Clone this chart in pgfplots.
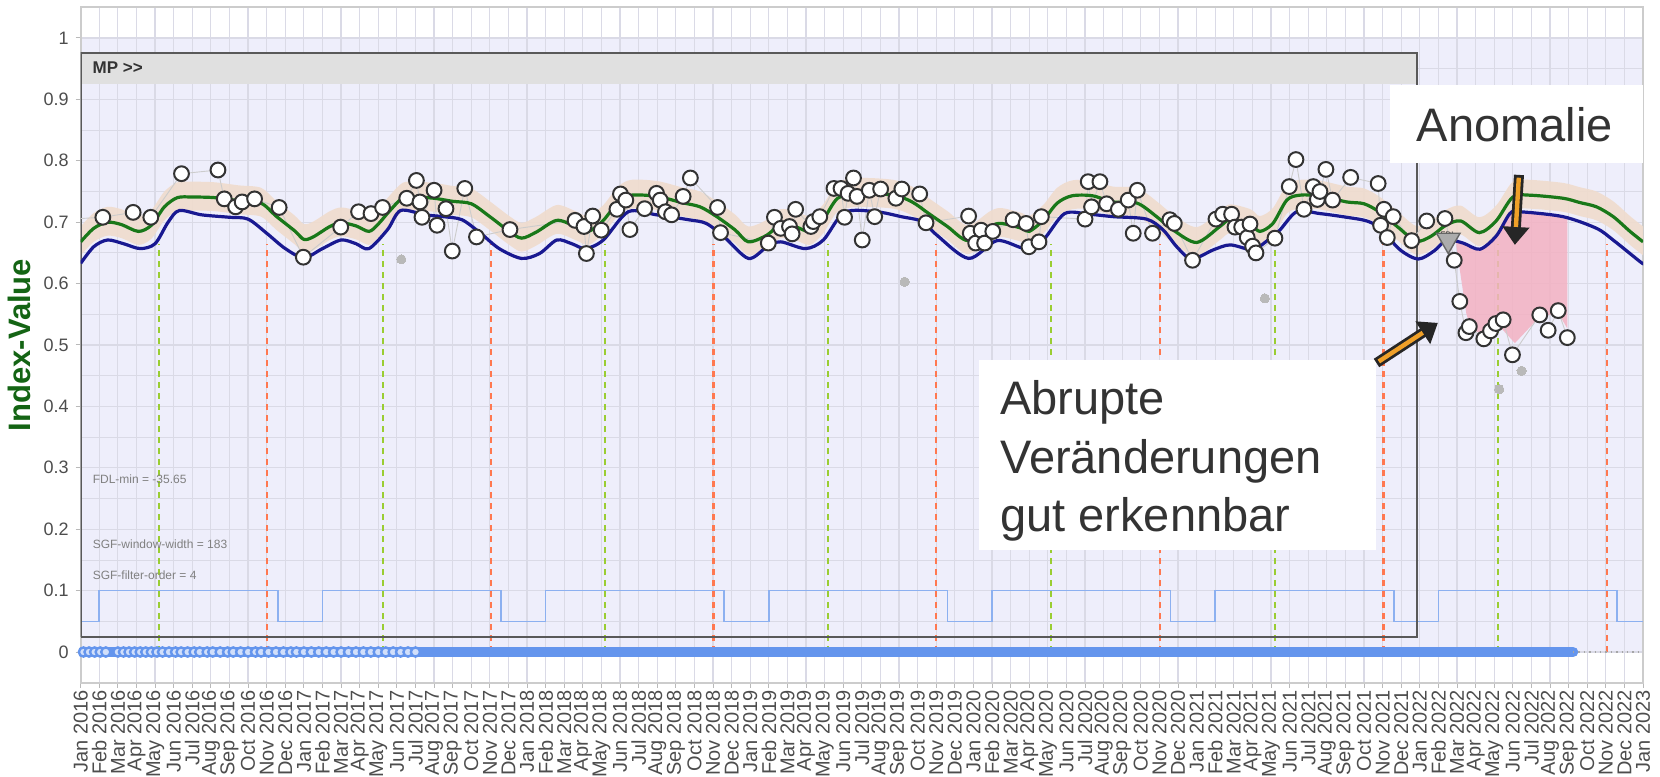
\documentclass[border=0pt]{standalone}
\usepackage{pgfplots}
\pgfplotsset{compat=1.18}
\usepackage{pgfplotstable}
\usepackage{fontspec}
\setmainfont{Liberation Sans}
\usetikzlibrary{arrows.meta}
\usepgfplotslibrary{fillbetween}

\definecolor{lav}{RGB}{238,238,251}
\definecolor{gridc}{RGB}{218,218,230}
\definecolor{gline}{RGB}{25,120,25}
\definecolor{bline}{RGB}{25,25,145}
\definecolor{bandc}{RGB}{240,220,205}
\definecolor{stepc}{RGB}{140,176,240}
\definecolor{bandblue}{RGB}{100,149,237}
\definecolor{dgreen}{RGB}{154,205,50}
\definecolor{dorange}{RGB}{255,120,80}
\definecolor{pinkc}{RGB}{243,178,194}
\definecolor{txt}{RGB}{77,77,77}
\definecolor{ann}{RGB}{51,51,51}
\definecolor{arrowor}{RGB}{240,160,40}
\definecolor{ylab}{RGB}{20,100,20}
\definecolor{outl}{RGB}{185,185,185}

\pgfplotstableread{
x g up lo
0 0.668 0.693 0.646
0.7 0.690 0.715 0.668
1.44 0.700 0.725 0.678
2.2 0.696 0.721 0.674
3.1 0.685 0.710 0.663
3.8 0.695 0.720 0.673
4.5 0.725 0.750 0.703
5.2 0.740 0.765 0.718
6.0 0.741 0.766 0.719
7.2 0.740 0.765 0.718
8.5 0.735 0.760 0.713
9.7 0.731 0.756 0.709
10.5 0.710 0.735 0.688
11.5 0.686 0.711 0.664
12.0 0.672 0.697 0.650
12.5 0.676 0.701 0.654
13.4 0.693 0.718 0.671
14.0 0.699 0.724 0.677
14.8 0.694 0.719 0.672
15.5 0.685 0.710 0.663
16.0 0.697 0.722 0.675
16.6 0.718 0.743 0.696
17.3 0.739 0.764 0.717
18.0 0.741 0.766 0.719
19.0 0.739 0.764 0.717
20.0 0.734 0.759 0.712
21.0 0.730 0.755 0.708
22.0 0.709 0.734 0.687
23.0 0.686 0.711 0.664
23.7 0.674 0.699 0.652
24.5 0.684 0.709 0.662
25.6 0.703 0.728 0.681
26.6 0.693 0.718 0.671
27.3 0.685 0.710 0.663
28.1 0.703 0.728 0.681
28.9 0.733 0.758 0.711
29.6 0.744 0.769 0.722
31.0 0.742 0.767 0.720
32.3 0.732 0.757 0.710
33.3 0.725 0.750 0.703
34.2 0.709 0.734 0.687
35.2 0.687 0.712 0.665
35.9 0.668 0.693 0.646
36.9 0.679 0.704 0.657
37.6 0.696 0.721 0.674
38.4 0.693 0.718 0.671
39.2 0.685 0.710 0.663
39.9 0.703 0.728 0.681
40.7 0.739 0.764 0.717
41.8 0.747 0.772 0.725
43.7 0.744 0.769 0.722
44.7 0.733 0.758 0.711
45.6 0.714 0.739 0.692
46.6 0.693 0.718 0.671
47.7 0.670 0.695 0.648
48.9 0.693 0.718 0.671
49.5 0.698 0.723 0.676
50.6 0.690 0.715 0.668
51.0 0.685 0.710 0.663
51.75 0.703 0.728 0.681
52.5 0.731 0.756 0.709
53.3 0.743 0.768 0.721
54.4 0.743 0.768 0.721
55.5 0.733 0.758 0.711
56.8 0.731 0.756 0.709
57.85 0.709 0.734 0.687
58.75 0.687 0.712 0.665
60.0 0.667 0.692 0.645
61.25 0.693 0.718 0.671
61.8 0.704 0.729 0.682
62.9 0.696 0.721 0.674
63.4 0.685 0.710 0.663
64.1 0.698 0.723 0.676
64.85 0.736 0.761 0.714
65.55 0.744 0.769 0.722
66.6 0.743 0.768 0.721
68.07 0.733 0.758 0.711
69.0 0.730 0.755 0.708
69.86 0.716 0.741 0.694
70.9 0.690 0.715 0.668
71.8 0.669 0.694 0.647
72.6 0.677 0.702 0.655
73.4 0.695 0.720 0.673
74.2 0.702 0.727 0.680
75.2 0.683 0.708 0.661
76.1 0.702 0.727 0.680
77.0 0.741 0.766 0.719
77.9 0.744 0.769 0.722
79.7 0.739 0.764 0.717
80.6 0.732 0.757 0.710
81.5 0.725 0.750 0.703
82.4 0.709 0.734 0.687
83.3 0.685 0.710 0.663
84.0 0.668 0.693 0.646
}\greentab

\pgfplotstableread{
x b
0 0.633
0.7 0.660
1.44 0.671
2.3 0.665
3.2 0.657
4.0 0.665
4.7 0.700
5.3 0.719
6.5 0.712
8.0 0.708
9.0 0.705
10.0 0.682
11.0 0.657
12.0 0.642
13.0 0.657
14.0 0.671
14.8 0.665
15.5 0.657
16.5 0.688
17.2 0.719
18.5 0.712
19.5 0.709
20.5 0.704
21.5 0.682
22.5 0.657
23.7 0.641
24.67 0.649
25.6 0.671
26.4 0.665
27.15 0.657
28.1 0.671
29.44 0.717
30.96 0.712
32.68 0.704
33.63 0.698
34.6 0.676
35.9 0.641
36.9 0.660
37.64 0.668
38.97 0.657
39.93 0.671
41.07 0.716
42.78 0.717
44.12 0.709
45.26 0.701
46.03 0.679
47.74 0.641
49.27 0.670
50.8 0.657
51.75 0.671
52.9 0.714
54.2 0.713
55.52 0.709
57.31 0.705
58.21 0.687
58.93 0.660
59.73 0.640
60.9 0.655
61.8 0.663
62.87 0.655
63.22 0.657
64.4 0.685
65.38 0.717
66.64 0.714
68.07 0.708
69.15 0.702
69.86 0.690
70.94 0.655
71.92 0.640
72.8 0.654
73.44 0.671
74.33 0.666
75.23 0.656
76.12 0.678
76.84 0.714
77.38 0.717
79.7 0.709
81.5 0.690
82.39 0.671
83.83 0.636
84.0 0.633
}\bluetab

\pgfplotstableread{
x y
1.19 0.708
2.82 0.716
3.77 0.708
5.42 0.779
7.38 0.785
7.72 0.738
8.33 0.725
8.68 0.733
9.35 0.738
10.67 0.724
11.97 0.643
13.98 0.692
14.94 0.717
15.61 0.714
16.23 0.724
17.53 0.739
18.05 0.768
18.24 0.733
18.35 0.708
19.0 0.752
19.16 0.695
19.64 0.722
19.98 0.653
20.65 0.755
21.28 0.676
23.08 0.688
26.58 0.703
27.06 0.693
27.19 0.649
27.53 0.710
27.99 0.687
28.83 0.721
29.02 0.746
29.31 0.736
29.53 0.688
30.32 0.722
30.96 0.747
31.16 0.736
31.44 0.717
31.77 0.712
32.39 0.742
32.78 0.772
34.24 0.724
34.40 0.683
36.97 0.666
37.30 0.708
37.64 0.690
38.11 0.693
38.25 0.681
38.44 0.721
39.26 0.693
39.39 0.701
39.74 0.709
40.50 0.755
40.88 0.755
41.07 0.708
41.26 0.747
41.55 0.772
41.74 0.742
42.02 0.671
42.40 0.752
42.69 0.709
43.01 0.754
43.83 0.739
44.15 0.754
45.11 0.746
45.45 0.699
47.74 0.710
47.83 0.682
48.12 0.666
48.41 0.687
48.60 0.666
49.04 0.685
50.13 0.704
50.83 0.698
50.98 0.660
51.52 0.668
51.65 0.709
54.00 0.705
54.17 0.766
54.35 0.725
54.80 0.766
55.16 0.730
55.79 0.721
56.32 0.736
56.59 0.682
56.81 0.752
57.63 0.682
58.56 0.704
58.80 0.698
59.78 0.638
61.04 0.705
61.40 0.713
61.88 0.713
62.06 0.692
62.42 0.692
62.72 0.675
62.87 0.697
63.01 0.661
63.19 0.650
64.21 0.674
64.98 0.758
65.34 0.802
65.77 0.721
66.27 0.758
66.49 0.737
66.63 0.750
66.95 0.786
67.31 0.736
68.28 0.773
69.76 0.763
69.89 0.695
70.07 0.721
70.25 0.675
70.57 0.709
71.56 0.670
72.37 0.702
73.35 0.706
73.85 0.638
74.15 0.571
74.48 0.520
74.66 0.530
75.44 0.510
75.80 0.523
76.09 0.535
76.48 0.541
76.98 0.484
78.45 0.549
78.90 0.524
79.44 0.556
79.93 0.512
}\obstab

\begin{document}
\begin{tikzpicture}
\begin{axis}[
  name=ax, set layers, scale only axis,
  width=781.15pt, height=337.7pt,
  xmin=0, xmax=84, ymin=-0.05, ymax=1.05,
  axis background/.style={fill=white},
  xtick={0,...,84},
  xticklabels={Jan 2016,Feb 2016,Mar 2016,Apr 2016,May 2016,Jun 2016,Jul 2016,Aug 2016,Sep 2016,Oct 2016,Nov 2016,Dec 2016,
    Jan 2017,Feb 2017,Mar 2017,Apr 2017,May 2017,Jun 2017,Jul 2017,Aug 2017,Sep 2017,Oct 2017,Nov 2017,Dec 2017,
    Jan 2018,Feb 2018,Mar 2018,Apr 2018,May 2018,Jun 2018,Jul 2018,Aug 2018,Sep 2018,Oct 2018,Nov 2018,Dec 2018,
    Jan 2019,Feb 2019,Mar 2019,Apr 2019,May 2019,Jun 2019,Jul 2019,Aug 2019,Sep 2019,Oct 2019,Nov 2019,Dec 2019,
    Jan 2020,Feb 2020,Mar 2020,Apr 2020,May 2020,Jun 2020,Jul 2020,Aug 2020,Sep 2020,Oct 2020,Nov 2020,Dec 2020,
    Jan 2021,Feb 2021,Mar 2021,Apr 2021,May 2021,Jun 2021,Jul 2021,Aug 2021,Sep 2021,Oct 2021,Nov 2021,Dec 2021,
    Jan 2022,Feb 2022,Mar 2022,Apr 2022,May 2022,Jun 2022,Jul 2022,Aug 2022,Sep 2022,Oct 2022,Nov 2022,Dec 2022,
    Jan 2023},
  ytick={0,0.1,0.2,0.3,0.4,0.5,0.6,0.7,0.8,0.9,1},
  minor ytick={0.05,0.15,0.25,0.35,0.45,0.55,0.65,0.75,0.85,0.95},
  grid=both,
  major grid style={draw=gridc, line width=0.6pt},
  minor grid style={draw=gridc, line width=0.4pt},
  tick align=outside, tick pos=left,
  major tick length=2.5pt, minor tick length=0pt,
  tick style={draw=gray!55, line width=0.5pt},
  axis line style={draw=gray!40, line width=0.8pt},
  /pgf/number format/assume math mode=true,
  xticklabel style={rotate=90, anchor=east, font=\fontsize{10}{10}\selectfont, text=txt, inner sep=1pt},
  yticklabel style={font=\fontsize{9}{9}\selectfont, text=txt},
  ylabel={Index-Value},
  ylabel style={at={(axis description cs:0,0.5)}, anchor=center, yshift=30.5pt, font=\fontsize{15.5}{15.5}\selectfont\bfseries, text=ylab},
]
% lavender background band
\addplot[on layer=axis background, fill=lav, draw=none] coordinates {(0,1) (84,1)} \closedcycle;

% beige band around green
\addplot[name path=U, draw=none, smooth, tension=0.5] table[x=x,y=up]{\greentab};
\addplot[name path=L, draw=none, smooth, tension=0.5] table[x=x,y=lo]{\greentab};
\addplot[bandc, opacity=0.9] fill between[of=U and L];

% season step line
\addplot[stepc, line width=0.8pt, const plot] coordinates {(0,0.05) (1,0.1) (10.6,0.05) (13,0.1) (22.6,0.05) (25,0.1) (34.6,0.05) (37,0.1) (46.6,0.05) (49,0.1) (58.6,0.05) (61,0.1) (70.6,0.05) (73,0.1) (82.6,0.05) (84,0.05)};

% dashed verticals
\pgfplotsset{gd/.style={dgreen, line width=1.1pt, dash pattern=on 3pt off 2.5pt}, od/.style={dorange, line width=1.1pt, dash pattern=on 3pt off 2.5pt}}
\addplot[gd] coordinates {(4.2,0) (4.2,0.665)};
\addplot[gd] coordinates {(16.25,0) (16.25,0.665)};
\addplot[gd] coordinates {(28.2,0) (28.2,0.665)};
\addplot[gd] coordinates {(40.17,0) (40.17,0.665)};
\addplot[gd] coordinates {(52.18,0) (52.18,0.665)};
\addplot[gd] coordinates {(64.2,0) (64.2,0.665)};
\addplot[gd] coordinates {(76.2,0) (76.2,0.665)};
\addplot[od] coordinates {(10,0) (10,0.665)};
\addplot[od] coordinates {(22.05,0) (22.05,0.665)};
\addplot[od] coordinates {(34.02,0) (34.02,0.665)};
\addplot[od] coordinates {(46,0) (46,0.665)};
\addplot[od] coordinates {(58.02,0) (58.02,0.665)};
\addplot[od] coordinates {(70.05,0) (70.05,0.665)};
\addplot[od] coordinates {(82.05,0) (82.05,0.665)};

% anomaly area
\addplot[fill=pinkc, draw=none, fill opacity=0.85] coordinates {(73.97,0.666) (74.33,0.666) (75.23,0.656) (76.12,0.678) (76.84,0.714) (77.38,0.717) (78.5,0.713) (79.93,0.708) (79.93,0.527) (79.44,0.552) (78.45,0.546) (77.11,0.503) (76.3,0.53) (75.59,0.516) (74.77,0.525) (74.5,0.551) (74.23,0.606) (73.97,0.66)} -- cycle;

% MP box
\addplot[fill=black!12, draw=none] coordinates {(0,0.925) (71.85,0.925) (71.85,0.975) (0,0.975)} -- cycle;
\addplot[draw=black!65, line width=1pt] coordinates {(0,0.025) (71.85,0.025) (71.85,0.975) (0,0.975) (0,0.025)};
\node[anchor=west, inner sep=0pt, font=\fontsize{8.5}{8.5}\selectfont\bfseries, text=ann] at (axis cs:0.62,0.951) {MP >{}>};

% interpolated observation line
\addplot[gray!40, line width=0.45pt] coordinates {(0,0.706) (1.19,0.708)};
\addplot[gray!40, line width=0.45pt] table[x=x,y=y]{\obstab};

% smoothed curves
\addplot[gline, line width=1.6pt, smooth, tension=0.5] table[x=x,y=g]{\greentab};
\addplot[bline, line width=1.6pt, smooth, tension=0.5] table[x=x,y=b]{\bluetab};

% outliers
\addplot[outl, only marks, mark=*, mark size=2.3pt, mark options={draw=outl, fill=outl, line width=0pt}] coordinates {(17.24,0.6395) (44.3,0.603) (63.67,0.576) (76.27,0.428) (77.47,0.458)};

% observations
\addplot[only marks, mark=*, mark size=3.7pt, mark options={draw=black!80, fill=white, line width=1pt}] table[x=x,y=y]{\obstab};

% FDL marker
\addplot[only marks, mark=triangle*, mark size=6.8pt, mark options={rotate=180, fill=gray!65, draw=gray!80!black, line width=0.7pt}] coordinates {(73.53,0.671)};
\node[inner sep=0pt, font=\fontsize{4}{4}\selectfont, text=gray!30!black] at (axis cs:73.53,0.68) {FDL};

% observation band at zero
\addplot[bandblue, line width=5.4pt, line cap=round] coordinates {(0,0) (80.23,0)};
\addplot[only marks, mark=*, mark size=2.3pt, mark options={draw=bandblue, fill=white!70!bandblue, line width=1.2pt}] coordinates {(0.15,0) (0.45,0) (0.75,0) (1.05,0) (1.35,0) (2.0,0) (2.3,0) (2.6,0) (2.9,0) (3.2,0) (3.5,0) (3.8,0) (4.1,0) (4.4,0) (4.75,0) (5.1,0) (5.4,0) (5.75,0) (6.1,0) (6.4,0) (6.8,0) (7.1,0) (7.5,0) (7.9,0) (8.2,0) (8.6,0) (9.0,0) (9.4,0) (9.7,0) (10.1,0) (10.5,0) (10.9,0) (11.3,0) (11.6,0) (12.0,0) (12.4,0) (12.8,0) (13.2,0) (13.6,0) (14.0,0) (14.4,0) (14.8,0) (15.2,0) (15.6,0) (16.0,0) (16.4,0) (16.8,0) (17.2,0) (17.6,0) (18.0,0)};
\addplot[gray!70, dotted, line width=0.7pt] coordinates {(80.23,0) (84,0)};

% parameter texts
\node[anchor=west, inner sep=0pt, font=\fontsize{6}{6}\selectfont, text=black!50] at (axis cs:0.63,0.281) {FDL-min = -35.65};
\node[anchor=west, inner sep=0pt, font=\fontsize{6}{6}\selectfont, text=black!50] at (axis cs:0.63,0.1756) {SGF-window-width = 183};
\node[anchor=west, inner sep=0pt, font=\fontsize{6}{6}\selectfont, text=black!50] at (axis cs:0.63,0.1256) {SGF-filter-order = 4};

% annotation boxes
\fill[white] (axis cs:48.3,0.166) rectangle (axis cs:69.64,0.4756);
\node[anchor=base west, inner sep=0pt, font=\fontsize{23.5}{23.5}\selectfont, text=ann] at (axis cs:49.42,0.386) {Abrupte};
\node[anchor=base west, inner sep=0pt, font=\fontsize{23.5}{23.5}\selectfont, text=ann] at (axis cs:49.42,0.290) {Veränderungen};
\node[anchor=base west, inner sep=0pt, font=\fontsize{23.5}{23.5}\selectfont, text=ann] at (axis cs:49.42,0.196) {gut erkennbar};
\fill[white] (axis cs:70.4,0.796) rectangle (axis cs:84,0.924);
\node[anchor=base west, inner sep=0pt, font=\fontsize{23.5}{23.5}\selectfont, text=ann] at (axis cs:71.82,0.831) {Anomalie};

% arrows
\draw[line width=5pt, black!85, -{Triangle[width=13pt,length=9pt]}] (axis cs:69.67,0.4707) -- (axis cs:72.97,0.536);
\draw[line width=2.2pt, arrowor, shorten >=9pt, shorten <=1.4pt] (axis cs:69.67,0.4707) -- (axis cs:72.97,0.536);
\draw[line width=5pt, black!85, -{Triangle[width=13pt,length=9pt]}] (axis cs:77.33,0.777) -- (axis cs:77.11,0.663);
\draw[line width=2.2pt, arrowor, shorten >=9pt, shorten <=1.4pt] (axis cs:77.33,0.777) -- (axis cs:77.11,0.663);
\end{axis}
\pgfresetboundingbox
\path[use as bounding box] ([shift={(-40.35pt,-46.65pt)}]ax.south west) rectangle ([shift={(8.5pt,3.65pt)}]ax.north east);
\end{tikzpicture}
\end{document}
